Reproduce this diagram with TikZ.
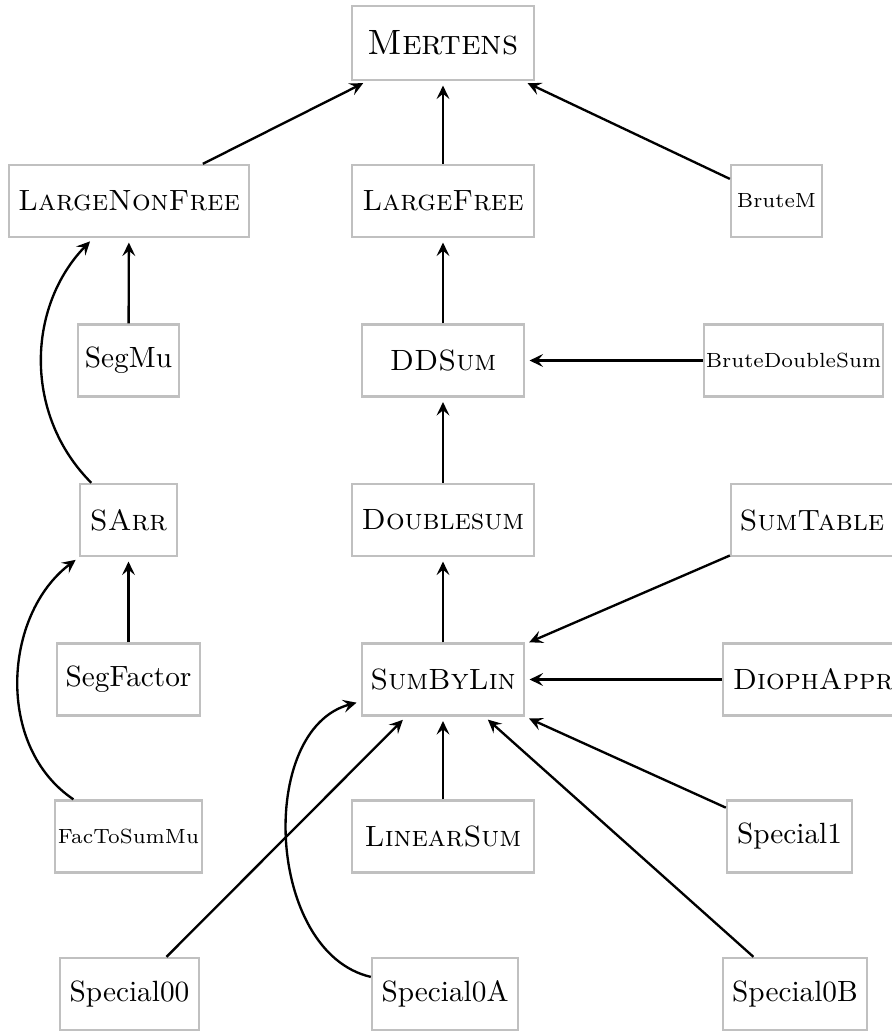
\documentclass[tikz,border=0pt]{standalone}
\usetikzlibrary{arrows.meta}
\definecolor{boxgray}{RGB}{192,192,192}
\begin{document}
\begin{tikzpicture}[x=0.3413pt,y=0.3413pt,
  box/.style={draw=boxgray,line width=0.8pt,inner sep=0pt,minimum height=72*0.3413pt,minimum width=#1*0.3413pt},
  dep/.style={-{Stealth[length=4.6pt,width=4.4pt,inset=1.8pt]},line width=0.8pt,shorten >=1.5pt}]
\useasboundingbox (0,0) rectangle (891,-1032);
\node[box=182,minimum height=74*0.3413pt,font=\large] (mertens) at (443,-43) {\textsc{Mertens}};
\node[box=240] (lnf) at (129,-201) {\textsc{LargeNonFree}};
\node[box=182] (lfree) at (443,-201) {\textsc{LargeFree}};
\node[box=91,font=\scriptsize] (brutem) at (776.5,-201) {BruteM};
\node[box=101] (segmu) at (128.5,-360.5) {SegMu};
\node[box=162] (ddsum) at (443,-360.5) {\textsc{DDSum}};
\node[box=179,font=\scriptsize] (brutedd) at (793.5,-360.5) {BruteDoubleSum};
\node[box=97] (sarr) at (128.5,-520) {\textsc{SArr}};
\node[box=182] (dsum) at (443,-520) {\textsc{Doublesum}};
\node[box=162] (sumtable) at (812,-520) {\textsc{SumTable}};
\node[box=143] (segfactor) at (128.5,-679.5) {SegFactor};
\node[box=162] (sumbylin) at (443,-679.5) {\textsc{SumByLin}};
\node[box=180] (dioph) at (813,-679.5) {\textsc{DiophAppr}};
\node[box=147,font=\scriptsize] (fac) at (128.5,-836.5) {FacToSumMu};
\node[box=182] (linsum) at (443,-836.5) {\textsc{LinearSum}};
\node[box=125] (sp1) at (789.5,-836.5) {Special1};
\node[box=139] (sp00) at (129.5,-994) {Special00};
\node[box=146] (sp0a) at (445,-994) {Special0A};
\node[box=144] (sp0b) at (795,-994) {Special0B};
\draw[dep] (lnf) -- (mertens);
\draw[dep] (lfree) -- (mertens);
\draw[dep] (brutem) -- (mertens);
\draw[dep] (segmu) -- (lnf);
\draw[dep] (ddsum) -- (lfree);
\draw[dep] (brutedd) -- (ddsum);
\draw[dep] (segfactor) -- (sarr);
\draw[dep] (dsum) -- (ddsum);
\draw[dep] (sumbylin) -- (dsum);
\draw[dep] (sumtable) -- (sumbylin);
\draw[dep] (dioph) -- (sumbylin);
\draw[dep] (linsum) -- (sumbylin);
\draw[dep] (sp1) -- (sumbylin);
\draw[dep] (sp00) -- (sumbylin);
\draw[dep] (sp0b) -- (sumbylin);
\draw[dep] (sarr) to[out=135,in=-134] (lnf);
\draw[dep] (fac) to[out=146,in=-143] (sarr);
\draw[dep] (sp0a) to[out=167,in=-165] (sumbylin);
\end{tikzpicture}
\end{document}
